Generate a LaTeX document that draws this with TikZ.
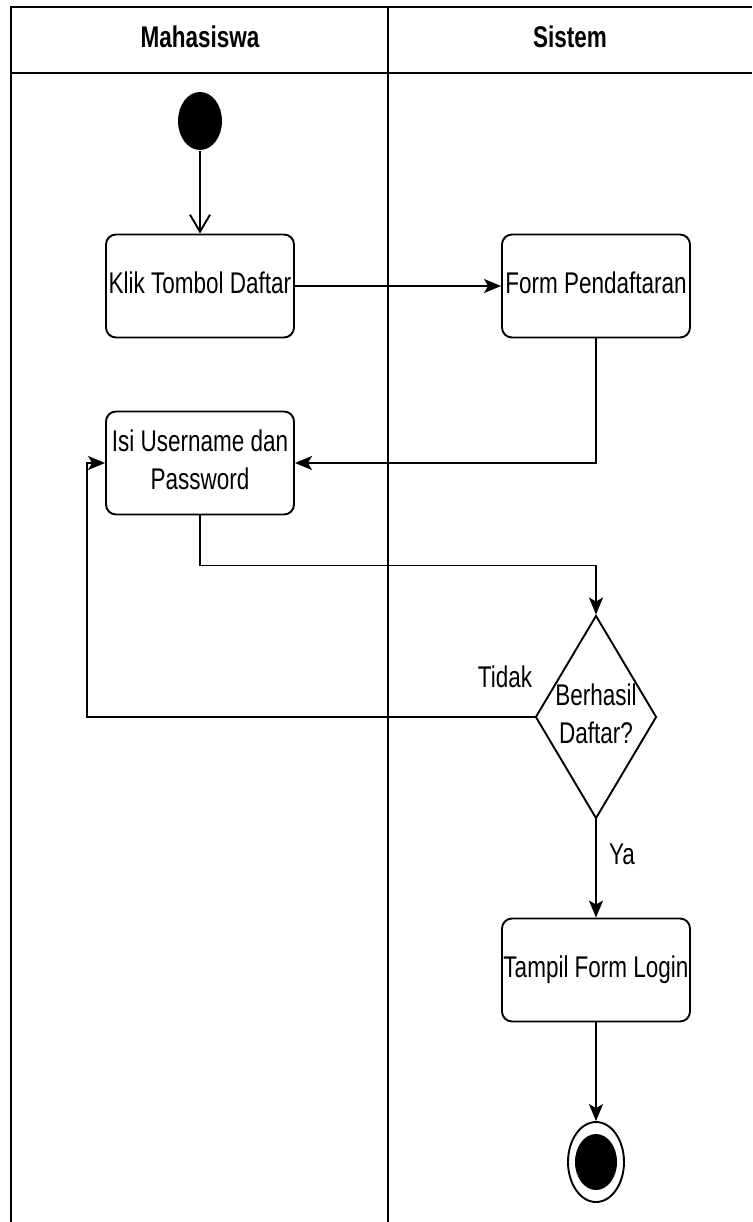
\documentclass[tikz,border=0pt]{standalone}
\usepackage{fontspec}
\setmainfont{Liberation Sans}
\usepackage{graphicx}
\usetikzlibrary{shapes, positioning, arrows.meta}

\newcommand{\tall}[1]{\scalebox{1}[1.33]{\begin{tabular}{@{}c@{}}#1\end{tabular}}}

\begin{document}
\begin{tikzpicture}[x=1pt, y=-1pt, line width=1.9pt, font=\fontsize{22.5}{28}\selectfont]
\tikzstyle{act_node}=[rectangle, rounded corners=10pt, draw, minimum width=188pt, minimum height=103pt, inner sep=0pt]
\tikzstyle{flow}=[-{Stealth[length=17pt, width=14pt, inset=4pt]}]

\useasboundingbox (0,0) rectangle (752,1222);

%swimlanes
\draw (752,7) -- (11,7) -- (11,1222);
\draw (11,73) -- (752,73);
\draw (388,7) -- (388,1222);
\node at (200,40) (lane1) {\tall{\bfseries Mahasiswa}};
\node at (570,40) (lane2) {\tall{\bfseries Sistem}};

\node [ellipse, fill=black, minimum width=44pt, minimum height=58pt, inner sep=0pt] at (200,121) (start) {};
\node [act_node] at (200,286) (klik) {\tall{Klik Tombol Daftar}};
\node [act_node] at (596,286) (form) {\tall{Form Pendaftaran}};
\node [act_node] at (200,463) (isi) {\tall{Isi Username dan\\Password}};
\node [diamond, draw, minimum width=121pt, minimum height=203pt, inner sep=0pt, label={center:\tall{Berhasil\\Daftar?}}] at (596,717) (cek) {};
\node [act_node] at (596,970) (tampil) {\tall{Tampil Form Login}};
\node [ellipse, draw, minimum width=56pt, minimum height=80pt, inner sep=0pt, path picture={\fill (path picture bounding box.center) ellipse [x radius=21pt, y radius=28pt];}] at (596,1162) (end) {};

\path [-{Straight Barb[length=17pt, width=20pt]}] (start) edge (klik);
\path [flow] (klik) edge (form);
\draw [flow] (form.south) |- (isi.east);
\draw [flow] (isi.south) -- ++(0,50) -| (cek.north);
\draw [flow] (cek.west) -| ([xshift=-18pt]isi.west) -- (isi.west);
\path [flow] (cek) edge (tampil);
\path [flow] (tampil) edge (end);

%guard labels
\node at (505,680) (no) {\tall{Tidak}};
\node at (622,857) (yes) {\tall{Ya}};

\end{tikzpicture}
\end{document}
